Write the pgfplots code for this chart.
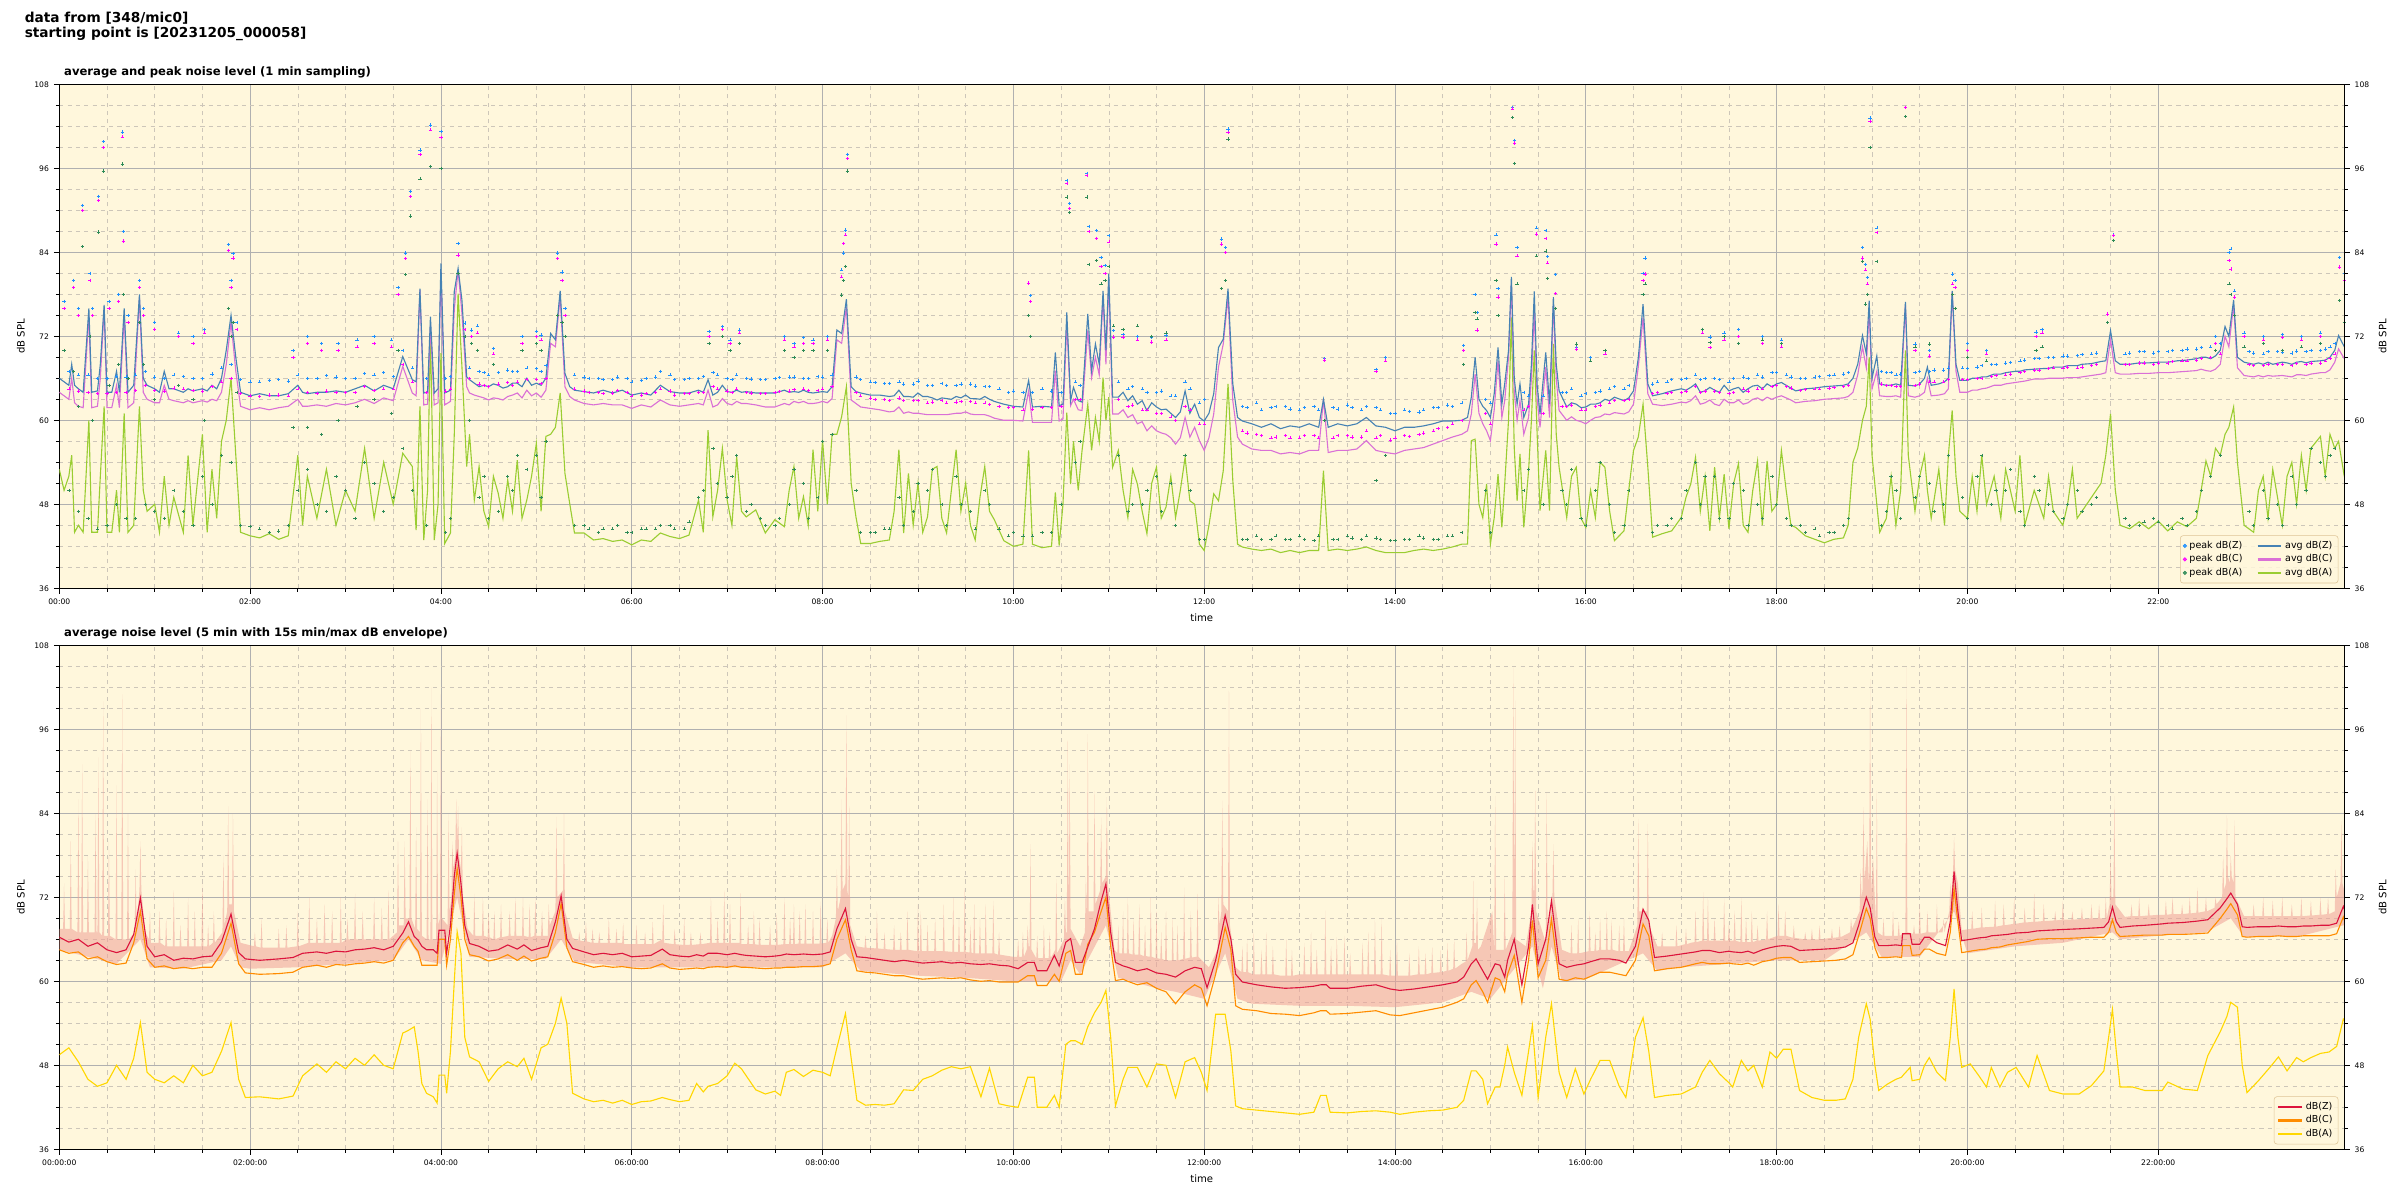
\documentclass[border=0pt]{standalone}
\usepackage{pgfplots}
\pgfplotsset{compat=1.18}
\usepackage{pgfplotstable}
\usepackage{fontspec}
\setmainfont{DejaVu Sans}

\definecolor{bgc}{RGB}{255,247,220}
\definecolor{gmaj}{RGB}{176,176,176}
\definecolor{gmin}{RGB}{205,198,185}
\definecolor{pZ}{RGB}{30,144,255}
\definecolor{pC}{RGB}{255,0,255}
\definecolor{pA}{RGB}{46,139,87}
\definecolor{aZ}{RGB}{70,130,180}
\definecolor{aC}{RGB}{218,112,214}
\definecolor{aA}{RGB}{154,205,50}
\definecolor{bZ}{RGB}{220,20,60}
\definecolor{bC}{RGB}{255,140,0}
\definecolor{bA}{RGB}{255,215,0}
\definecolor{envc}{RGB}{240,160,150}
\definecolor{legedge}{RGB}{222,196,150}

\newcommand\tkfont{\fontsize{5.5}{6.6}\selectfont}
\newcommand\lbfont{\fontsize{7.3}{8.8}\selectfont}
\newcommand\lgfont{\fontsize{6.9}{8.2}\selectfont}
\newcommand\ttfont{\bfseries\fontsize{8.4}{10}\selectfont}

% top panel: 1 min averages
\pgfplotstableread{
t Z C A
0.00 66.0 64.0 53
0.05 65.5 63.5 50
0.10 65.0 63.0 52
0.13 68.0 66.0 55
0.16 65.0 62.5 44
0.20 64.5 62.0 45
0.25 64.0 61.8 44
0.31 76.0 75.0 60
0.34 64.0 61.8 44
0.40 64.2 62.0 44
0.43 68.0 66.0 52
0.47 76.5 76.0 62
0.50 64.0 61.8 44
0.55 64.0 61.8 44
0.60 67.0 65.0 50
0.63 64.0 61.8 44
0.68 76.0 75.0 61
0.72 64.0 61.8 44
0.78 65.0 62.5 45
0.84 78.0 77.5 62
0.88 66.0 64.0 50
0.92 65.0 63.0 47
1.00 64.5 62.5 48
1.05 64.0 62.5 44
1.10 67.0 65.0 52
1.15 64.5 63.0 45
1.20 64.5 62.8 49
1.30 64.0 62.5 44
1.35 64.5 62.8 55
1.40 64.2 62.5 45
1.50 64.5 62.8 58
1.55 64.2 62.6 44
1.60 65.0 63.0 53
1.65 64.5 62.8 46
1.70 66.0 64.0 57
1.75 70.0 68.0 60
1.80 75.0 74.0 66
1.85 69.0 67.0 55
1.90 64.0 62.0 44
2.00 63.5 61.5 43.5
2.10 63.8 61.8 43.2
2.20 63.5 61.5 43.8
2.30 63.5 61.8 43
2.40 63.8 62.0 43.5
2.50 65.0 63.0 55
2.55 64.0 62.0 45
2.60 63.8 62.0 52
2.70 64.0 62.2 46
2.80 64.0 62.0 53
2.90 64.2 62.4 45
3.00 64.0 62.2 50
3.10 64.5 62.5 47
3.20 65.0 63.0 56
3.30 64.2 62.4 46
3.40 65.0 63.2 54
3.50 64.5 62.8 48
3.60 69.1 67.7 55.3
3.70 65.8 63.9 53.4
3.74 65.5 63.5 44.3
3.78 78.8 78.6 62.0
3.82 63.9 62.2 42.9
3.86 64.0 62.3 50
3.89 74.8 73.6 72.4
3.93 63.9 62.2 42.9
3.97 64.5 62.5 48
4.00 82.4 81.2 69.6
4.04 63.9 62.2 42.4
4.10 64.3 62.7 43.9
4.14 78.4 75.8 58.0
4.18 81.7 81.5 78.1
4.22 77.2 75.3 67.7
4.27 66.2 64.8 53.4
4.30 65.8 63.9 58.0
4.35 65.3 63.6 48.6
4.40 64.8 63.4 53.4
4.45 65.0 63.2 47.0
4.50 64.8 62.9 44.8
4.55 65.2 63.2 52
4.60 65.0 63.1 49.6
4.65 64.6 62.9 46
4.70 64.8 63.4 51.5
4.75 65.3 63.6 47
4.80 65.3 63.9 54.3
4.85 64.8 63.2 46
4.90 66.0 64.3 48.6
4.95 65.0 63.5 52
5.00 65.3 63.9 56.7
5.05 65.0 63.3 47
5.10 66.0 64.3 57.7
5.15 72.4 71.0 58.0
5.20 71.5 70.5 59.0
5.25 78.5 77.7 63.9
5.30 66.7 64.8 52.4
5.35 64.8 63.4 48.1
5.40 64.3 62.9 43.9
5.50 64.1 62.4 43.9
5.60 63.9 62.2 42.9
5.70 64.3 62.4 43.1
5.80 63.9 62.2 42.7
5.90 64.3 62.2 42.9
6.00 63.6 61.7 42.2
6.10 63.9 62.2 42.9
6.20 63.6 61.9 42.7
6.30 65.0 62.9 43.9
6.40 64.1 62.2 43.4
6.50 63.9 62.0 43.1
6.60 63.9 62.2 43.6
6.70 64.3 62.4 48.6
6.75 64.0 62.2 44
6.80 65.8 64.3 58.6
6.85 63.6 61.9 46.2
6.90 64.0 62.2 50
6.95 65.0 63.1 56.0
7.00 64.1 62.4 48.6
7.05 64.0 62.2 45
7.10 64.3 62.7 54.8
7.15 64.0 62.4 47
7.20 64.1 62.4 46.2
7.30 63.9 62.2 47.2
7.40 63.9 61.9 43.9
7.50 63.9 61.9 45.8
7.60 64.3 62.4 44.8
7.65 64.0 62.2 50
7.70 64.1 62.7 53.4
7.75 64.0 62.5 46
7.80 64.3 62.7 49.1
7.85 64.0 62.4 45
7.90 63.9 62.4 55.8
7.95 64.0 62.5 47
8.00 64.1 62.7 57.2
8.05 64.0 62.5 48
8.10 64.8 63.1 58.0
8.15 72.9 71.5 58.0
8.20 72.4 71.0 60.5
8.25 77.3 76.2 64.8
8.30 64.8 62.9 51.0
8.35 64.1 62.4 46.2
8.40 63.9 61.9 42.4
8.50 63.6 61.7 42.4
8.60 63.6 61.5 42.7
8.70 63.4 61.2 42.9
8.75 63.5 61.3 47
8.80 64.3 61.9 55.8
8.85 63.4 61.0 43.9
8.90 63.4 61.2 52.4
8.95 63.3 61.0 45
9.00 63.9 61.0 51.0
9.05 63.4 60.9 44
9.10 63.4 60.8 46.2
9.15 63.2 60.8 53
9.20 62.9 60.8 53.4
9.25 63.2 60.8 46
9.30 63.1 60.8 43.9
9.35 63.0 60.9 50
9.40 63.4 61.0 55.8
9.45 63.2 61.0 47
9.50 63.6 61.2 51.0
9.55 63.1 60.9 45
9.60 63.1 60.8 42.9
9.65 63.0 60.8 49
9.70 63.4 60.8 53.4
9.75 63.0 60.6 47
9.80 62.7 60.3 45.8
9.90 62.3 60.0 42.8
10.00 62.0 60.0 42.0
10.10 61.9 59.9 42.3
10.16 65.7 64.2 55.7
10.20 61.9 59.7 42.3
10.30 62.0 59.7 41.8
10.40 61.9 59.7 42.0
10.44 69.7 67.1 49.7
10.48 62.1 59.9 42.1
10.52 62.3 60.2 48
10.56 75.4 73.8 61.1
10.60 62.8 62.1 50.9
10.63 64.7 63.0 57
10.68 62.8 61.5 50
10.72 62.6 61.4 55.7
10.78 75.2 72.8 62.3
10.82 67.1 66.1 55.7
10.86 70.9 69.0 60.4
10.90 68.0 66.5 57
10.94 78.5 77.6 66.1
10.97 70.0 68.0 60
11.00 80.9 80.0 63.3
11.04 63.3 60.9 53.3
11.10 63.3 60.9 55.7
11.15 64.0 61.5 50
11.20 62.8 60.4 46.1
11.25 63.5 60.8 53
11.30 62.3 59.5 50.9
11.35 62.8 59.8 47
11.40 61.4 58.5 43.8
11.45 62.5 59.2 51
11.50 61.9 58.5 53.3
11.55 61.5 58.2 46
11.60 61.6 58.0 47.6
11.65 61.0 57.5 52
11.70 60.4 56.6 46.1
11.75 61.2 57.5 50
11.80 64.2 60.4 54.7
11.85 61.0 57.6 48.5
11.90 62.3 59.0 48.0
11.95 60.4 57.1 42.3
12.00 59.9 55.7 41.4
12.05 61.0 57.5 45
12.10 63.8 60.9 49.5
12.15 70.4 67.6 48.5
12.20 71.6 70.9 52.8
12.25 78.8 77.6 65.2
12.30 65.2 62.8 51.4
12.35 60.4 57.6 42.3
12.40 59.9 56.6 41.9
12.50 59.5 55.9 41.6
12.60 59.0 55.7 41.4
12.70 59.5 55.7 41.6
12.80 58.8 55.2 41.1
12.90 59.2 55.4 41.4
13.00 59.0 55.2 41.1
13.10 59.5 55.7 41.4
13.20 59.0 55.7 41.4
13.25 63.0 63.0 52.8
13.30 59.0 55.4 41.4
13.40 59.5 55.7 41.6
13.50 59.2 55.7 41.4
13.60 59.5 55.9 41.6
13.70 60.4 57.1 41.9
13.80 59.2 55.7 41.4
13.90 59.0 55.4 41.1
14.00 58.5 55.2 41.1
14.10 59.0 55.7 41.1
14.20 59.0 55.9 41.4
14.30 59.2 56.1 41.6
14.40 59.5 56.6 41.4
14.50 59.9 57.1 41.6
14.60 59.9 57.6 41.9
14.70 60.0 58.0 42.3
14.76 60.4 58.5 42.3
14.80 63.3 60.9 57.1
14.84 69.0 66.6 57.3
14.88 63.0 61.0 48
14.92 62.0 59.5 46.1
14.96 61.4 58.5 50.9
15.00 60.4 57.1 42.3
15.04 63.8 61.5 46.1
15.08 70.4 68.5 52.3
15.12 62.3 60.4 44.7
15.15 65.2 62.8 50.9
15.19 70.0 69.0 60
15.22 80.5 79.5 74.7
15.25 66.0 64.0 56
15.28 62.3 60.0 48.5
15.31 65.2 62.8 55.2
15.35 60.4 58.0 44.7
15.40 62.3 60.4 52.8
15.43 68.0 66.0 60
15.46 78.4 75.7 70.0
15.49 65.0 63.0 58
15.52 60.9 59.0 47.1
15.58 69.7 67.6 55.7
15.62 62.3 60.4 47.1
15.66 77.6 76.6 70.9
15.69 68.0 66.0 58
15.72 64.2 61.4 53.3
15.80 61.9 60.0 46.1
15.85 62.5 60.5 52
15.90 62.3 60.0 53.3
15.95 61.8 59.8 46
16.00 61.9 59.5 44.7
16.05 62.3 60.0 50
16.10 62.3 60.4 46.1
16.15 62.5 60.5 54
16.20 63.0 60.9 53.3
16.25 62.8 60.8 47
16.30 63.3 61.1 42.8
16.40 62.8 60.9 44.2
16.45 63.2 61.2 50
16.50 64.2 62.3 55.7
16.55 68.9 67.6 57.6
16.60 76.6 74.7 62.3
16.65 65.2 63.8 53.3
16.70 63.5 62.3 43.3
16.80 63.8 62.1 43.8
16.90 64.2 62.3 44.2
17.00 64.5 62.6 46.1
17.05 64.3 62.5 49
17.10 64.7 62.8 50.9
17.15 65.2 63.5 54.7
17.20 64.0 62.3 47
17.25 64.2 62.5 52
17.30 64.7 62.9 44.2
17.35 64.3 62.3 53.3
17.40 64.0 62.1 46
17.45 65.0 63.0 52.3
17.50 64.2 62.5 44.5
17.55 64.5 62.5 51
17.60 64.7 62.9 53.8
17.65 64.0 62.3 45
17.70 64.5 62.5 44
17.75 64.9 63.0 50
17.80 65.0 63.2 54.2
17.85 64.5 62.8 45
17.90 65.2 63.3 54.2
17.95 64.8 63.0 47
18.00 65.2 63.3 48
18.05 65.4 63.5 55.7
18.10 65.0 63.2 50
18.15 64.6 62.9 45
18.20 64.2 62.5 44.7
18.30 64.5 62.7 43.5
18.40 64.6 62.8 43.0
18.50 64.8 63.0 42.5
18.60 64.9 63.1 43.0
18.70 65.0 63.2 43.2
18.75 65.2 63.4 45
18.80 66.0 64.0 54
18.85 68.0 66.5 56
18.90 72.1 70.5 60
18.94 69.5 67.5 62
18.97 77.1 76.0 69.0
19.00 66.0 64.5 55
19.05 69.2 67.0 48
19.08 65.2 63.5 44
19.15 65.0 63.4 46
19.20 65.0 63.4 52
19.25 65.2 63.5 45
19.30 65.0 63.3 50
19.35 76.9 76.5 70.0
19.38 65.0 63.5 55
19.45 64.9 63.3 47
19.50 65.2 63.5 52
19.55 66.0 64.0 55
19.58 67.6 66.0 50
19.62 65.0 63.5 46
19.70 65.2 63.6 53
19.76 65.5 63.8 45
19.80 66.0 64.5 55
19.84 78.5 78.3 61.4
19.88 68.0 67.0 52
19.92 65.7 64.0 47
20.00 65.7 64.0 46
20.05 66.0 64.3 52
20.10 66.0 64.3 47
20.15 66.2 64.5 55
20.20 66.2 64.6 48
20.28 66.6 65.0 52
20.35 66.6 65.0 46
20.40 66.8 65.2 53
20.50 67.0 65.4 47
20.55 67.0 65.5 55
20.60 67.2 65.6 45
20.70 67.3 65.9 50
20.80 67.4 65.9 46
20.85 67.4 66.0 52
20.90 67.6 66.0 47
21.00 67.6 66.0 45
21.05 67.8 66.1 48
21.10 67.8 66.1 53
21.15 67.8 66.1 46
21.20 68.0 66.2 47
21.30 68.1 66.4 49
21.40 68.4 66.6 51
21.45 68.5 66.8 55
21.50 72.8 71.5 60.9
21.55 68.5 66.8 50
21.60 68.0 66.6 45
21.70 68.0 66.6 44.5
21.80 68.2 66.7 45.5
21.90 68.2 66.7 44.5
22.00 68.3 66.8 45.6
22.10 68.3 66.8 44.2
22.20 68.5 66.9 45.5
22.30 68.6 67.0 44.8
22.40 68.8 67.1 46
22.45 69.0 67.3 50
22.50 69.0 67.1 54.2
22.55 68.8 67.0 52
22.60 69.2 67.3 56
22.65 70.0 68.0 55
22.70 73.4 72.0 58
22.74 72.0 70.5 59
22.79 77.2 76.5 61.9
22.83 69.0 67.5 54
22.90 68.3 66.4 45
23.00 68.0 66.2 44
23.05 68.2 66.4 50
23.10 68.0 66.2 52
23.15 68.3 66.4 46
23.20 68.0 66.3 53
23.30 68.3 66.4 45
23.35 68.2 66.3 52
23.40 68.0 66.2 54
23.45 68.3 66.5 48
23.50 68.4 66.5 55
23.55 68.2 66.4 50
23.60 68.4 66.6 56
23.70 68.5 66.8 57.7
23.75 68.6 66.8 52
23.80 69.0 67.2 58
23.85 70.0 68.3 56
23.89 72.1 70.2 57
23.95 70.5 68.8 52
}\topavg

% top panel: 1 min peaks
\pgfplotstableread{
t Z C A
0.1 67.0 64.5 50
0.2 66.5 64.2 47
0.3 66.5 64.0 46
0.4 66.0 63.8 44.5
0.5 66.0 63.8 45
0.6 66.3 64.0 48
0.7 66.2 64.0 46
0.8 66.5 64.3 46
0.9 67.0 65.0 48
1.0 66.2 64.3 47
1.1 66.0 64.2 46
1.2 66.5 64.6 50
1.3 66.3 64.5 47
1.4 66.0 64.3 45
1.5 66.0 64.2 52
1.6 66.6 64.8 48
1.7 67.5 65.5 55
1.8 68.0 66.0 54
1.9 65.8 63.8 45
2.0 65.5 63.5 44.8
2.1 65.5 63.4 44.5
2.2 65.7 63.6 44.0
2.3 65.8 63.6 44.2
2.4 65.6 63.5 45
2.5 66.5 64.5 50
2.6 66.0 64.0 53
2.7 66.0 63.8 48
2.8 66.4 64.2 47
2.9 66.2 64.0 52
3.0 66.0 64.0 50
3.1 66.0 64.0 46
3.2 66.7 64.8 54
3.3 66.5 64.3 51
3.4 66.8 64.5 47
3.5 66.3 64.5 49
3.6 70 68 56
3.7 67.5 65.5 50
3.85 66.0 64.0 45
4.05 66.0 64.2 44
4.1 66.3 64.5 46
4.3 67.5 66.0 60
4.4 67.0 65.2 49
4.45 66.8 65.0 52
4.5 66.5 64.8 46
4.6 66.8 65.2 47
4.7 67.2 65.4 52
4.75 67.0 65.0 50
4.8 67.0 65.5 55
4.9 67.5 65.8 53
5.0 67.4 65.8 55
5.05 67.0 65.3 49
5.1 67.8 66.0 57
5.4 66.5 64.5 45
5.5 66.2 64.2 45
5.55 66.0 64.0 44.5
5.65 66.0 64.0 44
5.7 65.8 63.8 44.5
5.8 65.8 63.9 44.5
5.85 66.2 64.3 45
5.95 66.0 64.0 44
6.0 65.5 63.5 44
6.1 65.7 63.6 44.5
6.15 66.0 63.8 44.5
6.25 66.2 64.0 44.5
6.3 67.0 64.5 45
6.4 66.5 64.2 45
6.45 65.8 63.6 44.5
6.55 65.8 63.8 44.5
6.6 66.0 63.8 45.5
6.7 66.0 64.0 49
6.75 66.3 64.0 50
6.85 66.8 64.8 56
6.9 66.5 64.5 51
7.0 66.0 64.2 49
7.05 65.8 64.0 52
7.1 66.5 64.5 55
7.2 66.0 64.0 47
7.25 65.9 63.9 48
7.35 65.8 63.8 46
7.4 65.8 63.8 45
7.5 66.0 64.0 45
7.55 66.1 64.1 46
7.65 66.2 64.2 48
7.7 66.2 64.4 53
7.8 66.0 64.5 51
7.85 66.0 64.3 46
7.95 66.3 64.3 49
8.0 66.2 64.5 57
8.1 66.5 64.8 58
8.35 66.2 64.0 50
8.4 65.8 63.5 44
8.5 65.5 63.2 44
8.55 65.4 63.0 44
8.65 65.3 63.0 44.5
8.7 65.3 62.8 44.5
8.8 65.5 63.2 49
8.85 65.2 62.8 45
8.95 65.2 62.8 47
9.0 65.6 62.8 51
9.1 65.0 62.5 50
9.15 65.0 62.6 53
9.25 65.3 62.8 48
9.3 65.0 62.5 45
9.4 65.0 62.6 52
9.45 65.2 62.7 48
9.55 65.2 62.7 47
9.6 64.9 62.5 44.5
9.7 64.8 62.5 50
9.75 64.8 62.3 48
9.85 64.5 62.0 44.5
9.95 64.0 61.8 43.5
10.0 64.2 61.8 44
10.1 64.0 61.5 43.5
10.2 64.0 61.6 43.5
10.3 64.5 61.8 44
10.4 64.2 61.8 44
10.5 64.0 62.0 48
10.65 65.5 63.0 54
10.7 65.0 63.0 57
11.1 65.5 63.0 55
11.2 64.5 62.0 47
11.25 64.8 62.2 48
11.35 64.5 61.5 48
11.4 64.0 61.5 50
11.5 64.0 61.0 52
11.55 64.2 61.0 47
11.65 63.5 60.5 51
11.7 63.5 60.0 45
11.8 65.5 62.0 55
11.85 64.5 61.5 50
11.95 62.5 59.5 43
12.0 63.0 59.5 43
12.4 62.0 58.5 43
12.45 61.8 58.2 43
12.55 62.5 58.0 43.5
12.6 61.5 57.8 43
12.7 61.8 57.5 43
12.75 62.0 57.6 43.5
12.85 62.0 57.8 43
12.9 61.6 57.5 43
13.0 61.5 57.5 43.5
13.05 61.8 57.8 43
13.15 62.0 57.8 42.8
13.2 61.5 57.5 43.5
13.35 61.8 57.5 43
13.4 61.6 57.8 43
13.5 62.2 57.8 43.5
13.55 61.8 57.6 43.2
13.65 61.5 57.6 43
13.7 62.0 58.5 43.5
13.8 61.8 57.5 43.2
13.85 61.5 57.8 43
13.95 61.0 57.2 42.8
14.0 61.0 57.5 42.8
14.1 61.5 57.8 43
14.15 61.3 57.7 43
14.25 61.2 58.0 43.5
14.3 61.5 58.2 43.2
14.4 61.8 58.5 43
14.45 61.8 58.8 43
14.55 62.2 59.0 43.5
14.6 62.0 59.5 43.5
14.7 62.5 60.0 44
14.95 63.0 61.0 50
15.0 62.5 59.5 44
15.35 64.0 61.5 50
15.4 63.5 62.0 53
15.55 63.5 61.0 48
15.75 64.0 62.0 50
15.8 64.0 62.0 48
15.85 64.5 62.2 53
15.95 63.5 61.5 46
16.0 63.8 61.5 45
16.1 64.0 62.0 50
16.15 64.2 62.2 54
16.25 64.5 62.5 48
16.3 64.8 62.8 44
16.4 64.5 62.8 45
16.45 65.0 63.0 50
16.7 65.2 63.8 44
16.75 65.5 64.0 45
16.85 65.5 63.8 45
16.9 65.8 64.0 46
17.0 65.8 64.0 46
17.05 66.0 64.2 50
17.15 66.5 64.8 54
17.2 65.8 64.0 48
17.25 66.0 64.2 52
17.35 66.0 64.2 52
17.4 65.8 64.0 46
17.5 65.5 63.8 46
17.55 66.0 64.0 51
17.65 66.2 64.5 50
17.7 66.0 64.2 45
17.8 66.5 64.5 48
17.85 66.2 64.5 46
17.95 66.8 64.8 52
18.0 66.8 65.0 48
18.1 66.5 64.8 46
18.15 66.2 64.6 45
18.25 66.0 64.3 45
18.3 66.0 64.4 44
18.4 66.2 64.5 44.5
18.45 66.3 64.5 43.5
18.55 66.4 64.6 44
18.6 66.5 64.7 44
18.7 66.6 64.8 45
18.75 66.8 65.0 46
19.1 67.0 65.2 45
19.15 66.8 65.0 47
19.2 66.8 65.0 52
19.25 66.5 64.8 50
19.3 66.6 64.8 46
19.45 66.8 65.0 49
19.5 67.0 65.2 52
19.6 67.0 65.5 51
19.65 67.2 65.5 47
19.75 67.2 65.5 48
19.8 67.5 65.8 55
19.95 67.5 65.8 49
20.0 67.4 65.8 46
20.1 67.6 66.0 52
20.15 67.8 66.0 55
20.25 68.0 66.3 48
20.3 68.0 66.4 50
20.4 68.2 66.5 50
20.45 68.3 66.6 53
20.55 68.5 66.8 47
20.6 68.6 67.0 45
20.7 68.8 67.2 52
20.75 68.8 67.2 50
20.85 69.0 67.4 48
20.9 69.0 67.5 47
21.0 69.2 67.5 46
21.05 69.2 67.6 48
21.15 69.3 67.5 50
21.2 69.4 67.6 47
21.3 69.5 67.8 48
21.35 69.6 68.0 49
21.65 69.5 68.0 46
21.7 69.6 68.0 45
21.8 69.8 68.2 45
21.85 69.8 68.2 45.5
21.95 69.6 68.0 46
22.0 69.8 68.2 45.5
22.1 69.8 68.2 45
22.15 70.0 68.4 44.5
22.25 70.0 68.5 46
22.3 70.2 68.5 45
22.4 70.2 68.6 47
22.45 70.4 68.8 50
22.55 70.5 69.0 52
22.65 71.0 69.5 55
22.95 69.8 68.0 47
23.0 69.6 67.8 45
23.1 69.5 67.8 50
23.15 69.8 68.0 46
23.25 69.8 68.0 48
23.3 69.7 68.0 45
23.4 69.6 67.8 52
23.45 69.9 68.1 48
23.55 69.8 68.0 50
23.6 70.0 68.2 56
23.7 70.0 68.2 54
23.75 70.2 68.5 52
23.8 70.5 68.8 55
23.85 71 69.5 56
0.05 77 76 70
0.15 80 79 67
0.2 76 75 62
0.24 90.7 90.0 84.8
0.32 81 80 72
0.35 76 75 60
0.41 92.0 91.4 86.9
0.46 99.8 99.0 95.6
0.52 77 76 65
0.62 78 77 68
0.66 101.2 100.5 96.6
0.67 87.0 85.6 78
0.72 75 74 66
0.84 80 79 74
0.88 76 75 68
1.0 74 73 63
1.25 72.5 72 65
1.4 72 71 63
1.52 73 72.5 60
1.77 85.1 84.3 76
1.8 80 79 72
1.82 83.8 83.2 74
1.86 74 73 64
2.45 70 69 59
2.6 72 71 59
2.75 71 70 58
2.92 71 70 60
3.12 71.5 70.5 62
3.3 72 71 63
3.48 71.5 70.5 61
3.55 79 78 70
3.63 83.9 83.1 80.8
3.68 92.7 92.0 89.2
3.78 98.6 98.0 94.5
3.89 102.2 101.5 96.3
4.0 101.3 100.4 96.0
4.18 85.3 83.6 81
4.25 73.9 73.0 72
4.32 72.9 72.0 71
4.38 73.5 72.5 70
4.55 70.3 69.5 68
4.85 72.0 71.0 70
5.0 72.7 72.0 71
5.05 72.2 71.5 70
5.22 83.9 83.1 75
5.27 81.2 80 74
5.3 76 75 72
6.81 72.7 72.0 71
6.95 73.4 73.0 72
7.03 71.5 71.0 70
7.13 72.9 72.5 71
7.6 72.0 71.5 70
7.7 71.0 70.5 69
7.8 71.8 71.0 70
7.9 71.5 71 70
8.05 72.0 71.5 70
8.2 81.5 80.5 77.9
8.22 83.9 85.3 80
8.24 87.2 86.5 82
8.26 98.0 97.4 95.6
10.16 79.6 79.6 75.0
10.18 77.8 77 72
10.56 94.3 93.8 91.9
10.59 91.0 90.3 89.7
10.77 95.3 95.0 91.9
10.79 87.7 87.0 82.3
10.87 87.1 86 82.8
10.92 83.3 82 79.5
10.96 82.1 81 80
11.0 86.4 85.5 82
11.05 72.8 71.9 73.5
11.15 72.3 71.9 73
11.3 72.0 71.5 73.5
11.45 71.8 71.2 72
11.6 72.2 71.5 72.5
12.18 85.9 85.2 78.8
12.22 84.7 84 80
12.25 101.6 101.1 100.2
13.26 68.8 68.6 60
13.8 67.3 67 51.4
13.9 69.0 68.5 55
14.72 70.7 70.0 68.0
14.84 78.0 75.4 75.4
14.86 75.4 72.9 74.5
15.06 86.5 85.2 80
15.08 78.8 77.6 75
15.23 104.7 104.5 103.3
15.25 100.0 99.6 96.7
15.28 84.7 83.5 79.5
15.48 87.5 86.6 83.5
15.58 87.1 86.0 84.2
15.6 83.4 82.5 80.3
15.68 80.8 78.1 76
15.9 70.4 70.2 70.9
16.05 69 68.5 68.5
16.2 70 69.5 70
16.6 81 80 78
16.62 83.2 80.9 79.5
17.22 73 72.5 73
17.3 71.9 70.4 71.1
17.45 72.5 71.5 72
17.6 73 72 71
17.85 72 71 71.5
18.05 71.5 70.5 71
18.9 84.7 83.2 82.7
18.93 82.3 81.5 76.6
18.95 80.4 79.5 78
18.98 103.2 102.7 99.0
19.05 87.5 86.8 82.7
19.35 104.7 104.7 103.4
19.45 70.9 70.0 70.5
19.6 70.0 69.2 70.9
19.84 80.9 79.5 78
19.87 80.0 79.0 76
20.0 71 70 69
20.2 70 69.5 68.5
20.72 72.6 72 70
20.78 73 72.5 70.5
21.47 75.2 75.2 74.0
21.53 86.5 86.4 85.7
22.6 72 71 70
22.74 84.0 82.8 79.5
22.76 84.5 81.6 78
22.8 78.5 77.6 75
22.9 72.5 72 70.5
23.1 72 71.5 71
23.3 72.3 71.8 70
23.5 72 71.5 70.5
23.7 72.5 72 71
23.9 83.3 81.9 77.1
23.95 81 80 74
}\toppeak

% bottom panel: 5 min averages
\pgfplotstableread{
t Z C A
0.00 66.3 64.5 49.5
0.10 65.6 64.0 50.5
0.20 66.0 64.2 48.5
0.30 65.0 63.2 46
0.40 65.5 63.5 45
0.50 64.5 62.8 45.5
0.60 64.1 62.4 48
0.70 64.5 62.6 46
0.78 66.7 65.5 49
0.85 71.9 70.0 54.1
0.92 65.0 63.2 47
1.00 63.5 62.0 46
1.10 63.8 62.2 45.5
1.20 63.0 61.8 46.5
1.30 63.3 62.0 45.5
1.40 63.2 61.8 48
1.50 63.5 62.0 46.5
1.60 63.6 62.0 47
1.70 65.6 64.0 50
1.80 69.6 68.3 54.1
1.88 64.1 62.5 46
1.95 63.2 61.2 43.4
2.10 63.0 61.0 43.5
2.30 63.2 61.1 43.2
2.45 63.4 61.3 43.6
2.55 64.0 62.0 46.5
2.70 64.2 62.3 48.2
2.80 64.0 62.0 47
2.90 64.3 62.4 48.5
3.00 64.2 62.3 47.5
3.10 64.5 62.5 49
3.20 64.6 62.6 48
3.30 64.8 62.8 49.5
3.40 64.5 62.6 48
3.50 65.0 63.0 47.5
3.60 66.9 65.5 52.6
3.66 68.5 66.4 53.0
3.72 66.4 65.0 53.5
3.76 65.9 64.3 50
3.80 65.0 62.3 45.4
3.85 64.5 62.3 44.0
3.92 64.5 62.3 43.5
3.96 64.0 62.3 42.6
3.98 67.3 66.0 46.6
4.04 67.3 66.0 46.6
4.06 64.0 62.3 44.0
4.10 68.0 66.0 50
4.14 75.0 72.5 60
4.17 78.3 76.1 67.1
4.21 74.0 72.0 64
4.25 68.0 66.0 52
4.30 65.4 63.8 49.2
4.40 65.0 63.5 48.5
4.50 64.3 62.9 45.7
4.60 64.5 63.2 47.5
4.70 65.2 63.8 48.5
4.80 64.6 63.0 47.8
4.87 65.2 63.6 49
4.95 64.4 62.9 46
5.05 64.8 63.3 50.5
5.12 65.0 63.5 51
5.20 68.5 67.0 54
5.26 72.2 71.1 57.6
5.32 66.0 64.8 54
5.38 64.7 62.8 44
5.50 64.2 62.4 43.2
5.60 63.8 62.0 42.8
5.70 64.0 62.2 43.0
5.80 63.8 62.0 42.6
5.90 64.0 62.1 43.0
6.00 63.5 61.9 42.4
6.10 63.6 61.8 42.8
6.20 63.7 61.9 42.9
6.32 64.6 62.5 43.4
6.40 63.8 61.9 43.1
6.50 63.6 61.7 42.8
6.60 63.5 61.8 43.0
6.68 63.8 61.9 45.4
6.75 63.6 61.8 44.2
6.80 64.0 62.0 45.0
6.90 64.0 62.1 45.4
7.00 63.8 62.0 46.5
7.08 64.0 62.2 48.3
7.15 63.8 62.0 47.5
7.20 63.7 62.0 46.5
7.30 63.6 61.9 44.5
7.40 63.5 61.8 43.9
7.50 63.6 61.9 44.3
7.56 63.7 61.9 43.7
7.62 63.9 62.0 47.0
7.70 63.8 62.0 47.4
7.80 63.9 62.1 46.4
7.90 63.8 62.1 47.3
8.00 63.9 62.2 47.0
8.08 64.2 62.5 46.5
8.15 67.5 66.0 50.5
8.24 70.4 68.8 55.4
8.30 66.0 64.5 49
8.36 63.5 61.5 43.0
8.45 63.4 61.3 42.3
8.55 63.2 61.2 42.4
8.65 63.0 61.0 42.3
8.75 62.8 60.8 42.5
8.85 63.0 60.8 44.5
8.95 62.8 60.5 44.4
9.05 62.6 60.3 46.0
9.15 62.7 60.4 46.5
9.25 62.8 60.5 47.3
9.35 62.6 60.4 47.8
9.45 62.7 60.5 47.5
9.55 62.5 60.2 47.8
9.66 62.4 60.0 43.5
9.75 62.5 60.1 47.6
9.85 62.3 59.9 42.5
9.95 62.2 59.9 42.2
10.05 61.8 59.9 42.0
10.15 62.7 60.8 46.3
10.22 62.7 60.8 46.3
10.25 61.5 59.4 42.0
10.35 61.5 59.4 42.0
10.43 63.7 61.0 43.7
10.48 62.2 60.0 42.0
10.55 65.6 64.0 51.0
10.60 66.1 64.4 51.5
10.65 62.7 61.0 51.5
10.72 62.7 61.0 51.0
10.78 64.9 65.3 53.5
10.85 67.5 67.0 55.5
10.92 71.5 70.0 57
10.97 73.9 72.0 58.7
11.02 67.0 65.0 52
11.07 62.7 60.1 42.2
11.15 62.2 60.3 46
11.20 62.0 60.0 47.7
11.30 61.5 59.5 47.7
11.40 61.8 59.8 44.9
11.50 61.2 59.0 48.2
11.60 61.0 58.5 48.0
11.70 60.6 56.8 43.4
11.80 61.5 58.5 48.5
11.90 62.0 59.5 49.1
11.97 61.8 59.0 47
12.03 59.1 56.5 44.4
12.12 63.0 61.0 55.3
12.22 69.4 67.7 55.3
12.28 66.0 64.5 50
12.33 61.0 56.5 42.2
12.40 59.9 56.0 41.8
12.55 59.5 55.8 41.6
12.70 59.2 55.4 41.4
12.85 59.0 55.3 41.2
13.00 59.1 55.1 41.0
13.15 59.3 55.5 41.3
13.22 59.5 55.8 43.7
13.28 59.5 55.8 43.7
13.32 59.0 55.3 41.3
13.50 59.0 55.4 41.2
13.65 59.3 55.6 41.4
13.80 59.5 55.8 41.5
13.95 58.9 55.2 41.3
14.05 58.7 55.1 41.0
14.20 58.9 55.5 41.3
14.35 59.2 55.9 41.5
14.50 59.5 56.3 41.6
14.65 59.9 57.0 42.0
14.72 60.6 57.5 43
14.80 62.5 59.5 47.2
14.85 63.2 60.1 47.2
14.92 61.5 58.5 46
14.97 60.3 57.0 42.5
15.05 62.5 60.5 44.9
15.10 62.3 60.2 44.9
15.15 60.6 58.5 48
15.18 63.0 61.0 50.6
15.25 66.0 63.7 47
15.33 59.5 57.0 43.7
15.40 65.0 63.0 50
15.44 71.0 68.7 53.7
15.50 62.5 60.5 43.4
15.58 66.0 63.0 52
15.64 71.5 68.9 56.8
15.72 62.5 60.3 47
15.80 62.0 60.1 43.4
15.89 62.3 60.5 47.5
15.98 62.5 60.3 43.9
16.05 62.8 60.7 46
16.15 63.2 61.3 48.7
16.25 63.2 61.3 48.7
16.35 63.0 61.0 45
16.42 62.6 60.8 43.4
16.52 65.0 63.0 52
16.60 70.3 68.2 54.8
16.66 68.7 66.5 50
16.72 63.4 61.5 43.4
16.85 63.6 61.8 43.7
17.00 63.9 62.0 43.9
17.15 64.2 62.5 44.9
17.22 64.4 62.7 47.0
17.30 64.4 62.5 48.7
17.40 64.1 62.5 46.8
17.50 64.3 62.6 45.5
17.54 64.2 62.5 44.9
17.63 64.1 62.4 48.7
17.70 64.3 62.6 47.2
17.76 64.0 62.3 48.0
17.85 64.5 62.8 44.9
17.93 64.8 63.0 49.9
18.00 65.0 63.3 49.0
18.07 65.1 63.4 50.3
18.15 65.0 63.4 50.3
18.24 64.4 62.7 44.4
18.37 64.5 62.8 43.4
18.50 64.6 62.9 43.0
18.62 64.7 63.0 43.0
18.72 64.9 63.2 43.2
18.80 65.5 63.8 46
18.86 68.0 66.5 52
18.94 72.0 70.4 56.8
18.98 70.5 69.0 54.6
19.03 66.3 64.8 48
19.07 65.1 63.4 44.4
19.16 65.1 63.4 45.3
19.25 65.2 63.5 46
19.31 65.1 63.4 46.3
19.32 66.8 65.1 46.5
19.40 66.8 65.1 47.7
19.42 65.3 63.7 45.8
19.50 65.3 63.8 46
19.55 66.3 64.6 48
19.60 66.3 64.6 49.1
19.68 65.5 64.0 47
19.77 65.1 63.7 45.8
19.82 68.5 67.0 52
19.86 75.7 73.2 58.9
19.90 70.0 68.5 52
19.94 65.8 64.1 47.7
20.03 66.0 64.3 48.2
20.12 66.2 64.5 46.5
20.20 66.3 64.6 44.9
20.25 66.5 64.8 47.7
20.34 66.6 64.9 44.9
20.42 66.7 65.2 47
20.51 66.9 65.4 47.7
20.64 67.0 65.7 44.9
20.73 67.2 66.0 49.4
20.86 67.3 66.1 44.4
21.00 67.4 66.1 43.9
21.17 67.5 66.2 43.9
21.30 67.6 66.3 45.1
21.43 67.7 66.3 47.2
21.48 68.5 67.0 52
21.52 70.6 68.8 56.0
21.56 68.5 67.0 50
21.60 67.7 66.4 44.9
21.73 67.9 66.5 44.9
21.86 68.0 66.6 44.4
22.04 68.2 66.6 44.4
22.10 68.3 66.7 45.6
22.26 68.4 66.7 44.6
22.41 68.6 66.8 44.4
22.52 68.8 66.9 49.4
22.65 70.5 69.0 52.8
22.72 71.8 70.3 55
22.76 72.6 71.1 57.0
22.83 71.0 69.5 56.3
22.88 67.8 66.4 48
22.93 67.7 66.3 44.1
23.05 67.8 66.4 45.8
23.17 67.8 66.4 47.7
23.26 67.9 66.5 49.2
23.35 67.8 66.4 47.2
23.45 67.8 66.4 49.1
23.52 67.9 66.5 48.5
23.60 67.9 66.5 49.1
23.70 68.0 66.5 49.7
23.79 68.0 66.5 49.9
23.87 68.3 66.8 50.7
23.94 70.7 69.2 54.6
23.97 69.6 68.0 54.1
}\botavg

\pgfplotsset{
  nzbase/.style={
    scale only axis, width=22.85in, height=5.04in, anchor=south west,
    xmin=0, xmax=23.95, ymin=36, ymax=108,
    ytick={36,48,...,108}, minor y tick num=3,
    tick align=outside,
    major tick length=4pt, minor tick length=2.5pt,
    tick style={black, line width=0.5pt},
    ticklabel style={font=\tkfont},
    /pgf/number format/assume math mode=true,
    label style={font=\lbfont},
    ylabel={dB SPL},
  },
  nzmain/.style={
    nzbase,
    xtick={0,2,...,22}, minor x tick num=3,
    grid=both,
    major grid style={gmaj, line width=0.6pt},
    minor grid style={gmin, dashed, line width=0.4pt},
    axis background/.style={fill=bgc},
    axis line style={black, line width=0.7pt},
    xtick pos=bottom, ytick pos=left,
    xlabel={time},
    title style={at={(0,1)}, anchor=base west, yshift=0.7pt, font=\ttfont},
    legend style={font=\lgfont, fill=bgc, fill opacity=0.85, text opacity=1,
      draw=legedge, rounded corners=2pt, at={(0.9974,0.0099)}, anchor=south east,
      inner sep=2pt, row sep=-1pt},
    legend cell align=left,
  },
  nzright/.style={
    nzbase,
    axis x line=none, axis y line*=right,
    axis line style={black, line width=0.7pt},
  },
}

\begin{document}
\begin{tikzpicture}
\path[use as bounding box] (0,0) rectangle (24in,12in);
\node[anchor=base west, font=\bfseries\fontsize{9.9}{11.5}\selectfont, inner sep=0pt] at (0.245in,11.775in) {data from [348/mic0]};
\node[anchor=base west, font=\bfseries\fontsize{9.9}{11.5}\selectfont, inner sep=0pt] at (0.245in,11.622in) {starting point is [20231205\_000058]};

% ---------- top panel ----------
\begin{axis}[nzmain, at={(0.593in,6.117in)},
  title={average and peak noise level (1 min sampling)},
  xticklabels={00:00,02:00,04:00,06:00,08:00,10:00,12:00,14:00,16:00,18:00,20:00,22:00},
  legend columns=2,
  legend style={/tikz/every even column/.append style={column sep=8pt}}]
\addlegendimage{only marks, mark=*, mark size=1.3pt, pZ}
\addlegendentry{peak dB(Z)}
\addlegendimage{line legend, aZ, line width=1.8pt}
\addlegendentry{avg dB(Z)}
\addlegendimage{only marks, mark=*, mark size=1.3pt, pC}
\addlegendentry{peak dB(C)}
\addlegendimage{line legend, aC, line width=1.8pt}
\addlegendentry{avg dB(C)}
\addlegendimage{only marks, mark=*, mark size=1.3pt, pA}
\addlegendentry{peak dB(A)}
\addlegendimage{line legend, aA, line width=1.8pt}
\addlegendentry{avg dB(A)}
\addplot[forget plot, only marks, mark=+, mark size=1.2pt, pZ, mark options={line width=0.35pt}] table[x=t, y=Z] {\toppeak};
\addplot[forget plot, only marks, mark=+, mark size=1.2pt, pC, mark options={line width=0.35pt}] table[x=t, y=C] {\toppeak};
\addplot[forget plot, only marks, mark=+, mark size=1.2pt, pA, mark options={line width=0.35pt}] table[x=t, y=A] {\toppeak};
\addplot[forget plot, aA, line width=0.8pt] table[x=t, y=A] {\topavg};
\addplot[forget plot, aC, line width=0.8pt] table[x=t, y=C] {\topavg};
\addplot[forget plot, aZ, line width=0.8pt] table[x=t, y=Z] {\topavg};
\end{axis}
\begin{axis}[nzright, at={(0.593in,6.117in)}]
\addplot[draw=none] coordinates {(1,50)};
\end{axis}

% ---------- bottom panel ----------
\begin{axis}[nzmain, at={(0.593in,0.507in)},
  title={average noise level (5 min with 15s min/max dB envelope)},
  xticklabels={00:00:00,02:00:00,04:00:00,06:00:00,08:00:00,10:00:00,12:00:00,14:00:00,16:00:00,18:00:00,20:00:00,22:00:00}]
\addlegendimage{line legend, bZ, line width=1.8pt}
\addlegendentry{dB(Z)}
\addlegendimage{line legend, bC, line width=1.8pt}
\addlegendentry{dB(C)}
\addlegendimage{line legend, bA, line width=1.8pt}
\addlegendentry{dB(A)}
% 15 s envelope: max forward, then min backward
\addplot[forget plot, fill=envc, fill opacity=0.55, draw=none] coordinates {
(0.00,67.5)
(0.04,67.5)(0.05,74)(0.06,67.5) (0.11,67.5)(0.12,80)(0.13,67.5)
(0.19,67)(0.20,86)(0.21,67) (0.23,67)(0.24,91)(0.25,67)
(0.29,67)(0.30,78)(0.31,67) (0.37,67)(0.38,84)(0.39,67)
(0.40,67)(0.41,92)(0.42,67) (0.45,66.5)(0.46,100)(0.47,66.5)
(0.51,66.5)(0.52,80)(0.53,66.5) (0.59,66)(0.60,88)(0.61,66)
(0.65,66)(0.66,101)(0.67,66) (0.71,66)(0.72,84)(0.73,66)
(0.79,67)(0.80,76)(0.81,68) (0.84,73)(0.85,80)(0.86,73)
(0.90,67)
(0.94,66)(0.95,70)(0.96,65.5) (1.04,65.5)(1.05,70)(1.06,65.5)
(1.11,65)(1.12,69)(1.13,65) (1.19,65)(1.20,73)(1.21,65)
(1.26,65)(1.27,68)(1.28,65) (1.34,65)(1.35,72)(1.36,65)
(1.41,65)(1.42,70)(1.43,65) (1.49,65)(1.50,74)(1.51,65)
(1.55,65)(1.56,68)(1.57,65) (1.61,65.5)(1.62,70)(1.63,65.5)
(1.71,67)(1.72,78)(1.73,68) (1.76,70)(1.77,85)(1.78,71)
(1.81,71)(1.82,84)(1.83,70)
(1.90,65.5)
(2.04,65)(2.05,67)(2.06,65) (2.11,64.8)(2.12,69)(2.13,64.8)
(2.20,64.8)
(2.29,64.8)(2.30,67.5)(2.31,64.8) (2.37,64.8)(2.38,68)(2.39,64.8)
(2.49,65)(2.50,70)(2.51,65) (2.61,65.5)(2.62,72)(2.63,65.5)
(2.69,65.5)(2.70,69)(2.71,65.5) (2.77,65.5)(2.78,71)(2.79,65.5)
(2.85,65.5)(2.86,70)(2.87,65.5) (2.94,65.5)(2.95,72)(2.96,65.5)
(3.01,66)(3.02,69)(3.03,66) (3.09,66)(3.10,72.5)(3.11,66)
(3.17,66)(3.18,70)(3.19,66) (3.29,66)(3.30,72)(3.31,66)
(3.37,66)(3.38,70.5)(3.39,66) (3.44,66)(3.45,73)(3.46,66)
(3.54,67)(3.55,80)(3.56,68) (3.61,68)(3.62,80)(3.63,69)
(3.67,69)(3.68,93)(3.69,69) (3.73,67.5)(3.74,82)(3.75,67.5)
(3.78,67)(3.79,99)(3.80,66.5) (3.85,66)(3.86,86)(3.87,66)
(3.89,66)(3.90,102)(3.91,66) (3.95,66)(3.96,90)(3.97,68)
(3.99,69)(4.00,101)(4.01,69) (4.07,68)(4.08,84)(4.09,70)
(4.11,72)(4.12,80)(4.13,76) (4.15,78)(4.16,86)(4.17,80)(4.18,85)(4.19,78)
(4.21,76)(4.22,82)(4.23,72)
(4.28,67.5)
(4.34,66.5)(4.35,72.5)(4.36,66.5) (4.43,66.5)(4.44,72)(4.45,66.5)
(4.49,66.3)(4.50,70)(4.51,66.3) (4.55,66)(4.56,70)(4.57,66)
(4.62,66.3)(4.63,71)(4.64,66.3) (4.71,66.5)(4.72,70)(4.73,66.5)
(4.77,66.5)(4.78,72)(4.79,66.5) (4.85,66.5)(4.86,72)(4.87,66.5)
(4.92,66.3)(4.93,71)(4.94,66.3) (4.98,66.5)(4.99,72)(5.00,66.5)
(5.05,66.5)(5.06,70)(5.07,66.5) (5.12,66.5)(5.13,71)(5.14,68)
(5.20,70)(5.21,83.5)(5.22,72) (5.28,73)(5.29,84)(5.30,70)
(5.38,66.2)
(5.44,65.8)(5.45,67)(5.46,65.8) (5.51,65.7)(5.52,68.5)(5.53,65.7)
(5.58,65.5)(5.59,67.5)(5.60,65.5) (5.65,65.5)(5.66,67)(5.67,65.5)
(5.75,65.5)(5.76,69)(5.77,65.5) (5.83,65.5)(5.84,67.5)(5.85,65.5)
(5.90,65.5)(5.91,68.3)(5.92,65.3) (6.04,65.3)(6.05,68)(6.06,65.3)
(6.13,65.3)(6.14,67)(6.15,65.3) (6.21,65.3)(6.22,68.5)(6.23,65.3)
(6.32,66)(6.33,71)(6.34,65.5) (6.44,65.3)(6.45,67.5)(6.46,65.3)
(6.54,65.2)(6.55,69)(6.56,65.2) (6.61,65.2)(6.62,67)(6.63,65.2)
(6.71,65.3)(6.72,67)(6.73,65.3) (6.82,65.5)(6.83,72)(6.84,65.5)
(6.89,65.5)(6.90,69)(6.91,65.5) (6.96,65.5)(6.97,73)(6.98,65.5)
(7.02,65.5)(7.03,71)(7.04,65.5) (7.13,65.5)(7.14,72.6)(7.15,65.3)
(7.21,65.3)(7.22,68)(7.23,65.3) (7.27,65.3)(7.28,70)(7.29,65.3)
(7.33,65.2)(7.34,69)(7.35,65.2) (7.44,65.2)(7.45,68)(7.46,65.2)
(7.51,65.2)(7.52,69.5)(7.53,65.2) (7.59,65.3)(7.60,72)(7.61,65.3)
(7.65,65.3)(7.66,69)(7.67,65.3) (7.69,65.3)(7.70,71)(7.71,65.3)
(7.75,65.4)(7.76,70)(7.77,65.4) (7.81,65.4)(7.82,71)(7.83,65.4)
(7.89,65.4)(7.90,70)(7.91,65.4) (7.97,65.4)(7.98,71.4)(7.99,65.4)
(8.04,65.5)(8.05,69)(8.06,65.5)
(8.10,66.5)
(8.14,69)(8.15,76)(8.16,70) (8.19,72)(8.20,86)(8.21,73)
(8.24,74)(8.25,98)(8.26,73) (8.27,72)(8.28,85)(8.29,68)
(8.36,65)
(8.44,64.8)(8.45,66.5)(8.46,64.8) (8.56,64.7)(8.57,70)(8.58,64.7)
(8.64,64.6)(8.65,67)(8.66,64.6) (8.74,64.5)(8.75,68)(8.76,64.5)
(8.81,64.5)(8.82,67)(8.83,64.5) (8.88,64.5)(8.89,70)(8.90,64.5)
(8.99,64.3)(9.00,71)(9.01,64.3) (9.02,64.3)(9.03,70)(9.04,64.3)
(9.09,64.3)(9.10,68)(9.11,64.3) (9.17,64.3)(9.18,69)(9.19,64.3)
(9.26,64.3)(9.27,71)(9.28,64.3) (9.36,64.2)(9.37,72)(9.38,64.2)
(9.42,64.2)(9.43,69)(9.44,64.2) (9.48,64.2)(9.49,73.3)(9.50,64.2)
(9.54,64.1)(9.55,68)(9.56,64.1) (9.58,64)(9.59,71)(9.60,64)
(9.64,64)(9.65,69)(9.66,64) (9.70,64)(9.71,71)(9.72,64)
(9.78,64)(9.79,71.5)(9.80,64) (9.84,63.8)(9.85,67)(9.86,63.8)
(10.00,63.5)
(10.04,63.5)(10.05,66)(10.06,63.5) (10.09,63.5)(10.10,67)(10.11,63.5)
(10.14,64.5)(10.15,68)(10.16,65) (10.17,65)(10.18,79.6)(10.19,64.5)
(10.24,63.3)(10.25,66.5)(10.26,63.3) (10.31,63.3)(10.32,68)(10.33,63.3)
(10.37,63.3)(10.38,67)(10.39,63.3) (10.44,64.5)(10.45,74.6)(10.46,64)
(10.53,66)(10.54,72)(10.55,67) (10.56,67)(10.57,94.4)(10.58,68)(10.59,91)(10.60,67.5)
(10.70,65)
(10.75,67)(10.76,75)(10.77,68)(10.78,95.3)(10.79,70)
(10.84,70)(10.85,87.2)(10.86,71) (10.91,73)(10.92,83.4)(10.93,74)
(10.97,75)(10.98,86.3)(10.99,74)
(11.06,64.5)
(11.09,64)(11.10,68)(11.11,64) (11.14,64)(11.15,70)(11.16,64)
(11.19,64)(11.20,72)(11.21,64) (11.25,63.8)(11.26,69)(11.27,63.8)
(11.31,63.8)(11.32,71)(11.33,63.8) (11.37,63.6)(11.38,68)(11.39,63.6)
(11.43,63.5)(11.44,72)(11.45,63.5) (11.49,63.3)(11.50,70)(11.51,63.3)
(11.54,63.2)(11.55,67)(11.56,63.2) (11.59,63)(11.60,70)(11.61,63)
(11.66,63)(11.67,69)(11.68,63) (11.71,63)(11.72,68)(11.73,63)
(11.78,63.2)(11.79,73.4)(11.80,63.2) (11.85,63.4)(11.86,70)(11.87,63.4)
(11.92,63.5)(11.93,72.5)(11.94,63.5)
(12.05,62)
(12.14,64.5)(12.15,72)(12.16,68) (12.18,70)(12.19,85.8)(12.20,71)
(12.25,70)(12.26,101.5)(12.27,68)
(12.33,62)
(12.39,61.3)(12.40,65)(12.41,61.3) (12.44,61.3)(12.45,66)(12.46,61.3)
(12.51,61)(12.52,67)(12.53,61) (12.59,61)(12.60,64.5)(12.61,61)
(12.64,61)(12.65,67)(12.66,61) (12.71,61)(12.72,65)(12.73,61)
(12.80,60.8)
(12.85,60.8)(12.86,66)(12.87,60.8) (12.91,60.8)(12.92,64.5)(12.93,60.8)
(13.00,61)
(13.04,61)(13.05,65.5)(13.06,61) (13.11,61)(13.12,67)(13.13,61)
(13.17,61)(13.18,64.5)(13.19,61) (13.26,61)(13.27,70.1)(13.28,61)
(13.32,61)(13.33,65)(13.34,61) (13.38,61)(13.39,66.3)(13.40,61)
(13.46,61)(13.47,66.5)(13.48,61) (13.52,61)(13.53,64)(13.54,61)
(13.60,61)
(13.65,61)(13.66,65.5)(13.67,61) (13.71,61)(13.72,67)(13.73,61)
(13.78,61)(13.79,68.7)(13.80,61) (13.85,61)(13.86,69)(13.87,61)
(13.94,60.8)(13.95,64.5)(13.96,60.8) (14.01,60.8)(14.02,66)(14.03,60.8)
(14.10,60.8)
(14.14,60.8)(14.15,64)(14.16,60.8) (14.24,61)(14.25,65)(14.26,61)
(14.31,61)(14.32,64)(14.33,61) (14.38,61.2)(14.39,64.9)(14.40,61.2)
(14.47,61.3)(14.48,64.5)(14.49,61.3) (14.54,61.5)(14.55,65.5)(14.56,61.5)
(14.61,61.8)(14.62,66)(14.63,61.8)
(14.70,62.5)
(14.74,62.8)(14.75,67)(14.76,63) (14.81,65)(14.82,74.4)(14.83,65.5)
(14.85,65.5)(14.86,72)(14.87,64.5)
(14.90,65) (15.02,70)
(15.04,64.5)(15.05,86.5)(15.06,64.5) (15.14,64.5)(15.15,74.9)(15.16,64.5)
(15.23,67)(15.24,104.8)(15.25,70)(15.26,100.1)(15.27,66)
(15.37,65)
(15.43,70)(15.44,80)(15.45,73)(15.46,73)(15.47,87.2)(15.48,70)
(15.58,65.5)(15.59,87)(15.60,67) (15.65,72)(15.66,79.6)(15.67,72)
(15.75,64.5)
(15.84,64)(15.85,68)(15.86,64) (15.91,64)(15.92,69)(15.93,64)
(16.03,64.3)(16.04,70)(16.05,64.3) (16.09,64.3)(16.10,67)(16.11,64.3)
(16.14,64.5)(16.15,69)(16.16,64.5) (16.21,64.5)(16.22,70)(16.23,64.5)
(16.26,64.5)(16.27,68.7)(16.28,64.5) (16.34,64.3)(16.35,68)(16.36,64.3)
(16.39,64.3)(16.40,69)(16.41,64.3)
(16.45,64.3)
(16.54,68)(16.55,83.2)(16.56,70) (16.64,70)(16.65,82.5)(16.66,68)
(16.75,65)
(16.79,65)(16.80,67)(16.81,65)
(16.90,65)
(16.94,65)(16.95,68)(16.96,65) (17.04,65.3)(17.05,67.5)(17.06,65.3)
(17.10,65.5)
(17.14,65.6)(17.15,70)(17.16,65.6) (17.22,65.8)(17.23,72.7)(17.24,65.8)
(17.27,65.8)(17.28,72)(17.29,65.8) (17.34,65.8)(17.35,69)(17.36,65.8)
(17.44,65.8)(17.45,71.8)(17.46,65.8) (17.49,65.8)(17.50,68.5)(17.51,65.8)
(17.55,65.8)(17.56,70.1)(17.57,65.8) (17.62,65.6)(17.63,72)(17.64,65.6)
(17.67,65.6)(17.68,69)(17.69,65.6) (17.73,65.6)(17.74,70)(17.75,65.6)
(17.79,65.8)(17.80,68)(17.81,65.8) (17.89,66)(17.90,70)(17.91,66)
(18.01,66.5)(18.02,71)(18.03,66.5) (18.08,66.5)(18.09,70)(18.10,66.5)
(18.17,66.2)(18.18,68)(18.19,66.2) (18.29,66)(18.30,67)(18.31,66)
(18.36,66)(18.37,67.5)(18.38,66) (18.44,66)(18.45,68)(18.46,66)
(18.57,66.2)(18.58,67.5)(18.59,66.2) (18.65,66.3)(18.66,68)(18.67,66.3)
(18.70,66.5)
(18.77,67)(18.78,69)(18.79,67.5)
(18.87,70)(18.88,76)(18.89,72) (18.90,73)(18.91,84.9)(18.92,74)
(18.95,80)
(18.97,73)(18.98,103.2)(18.99,72) (19.01,78)
(19.04,68)(19.05,87.2)(19.06,67)
(19.11,66.5)(19.12,69)(19.13,66.5)
(19.15,66.5)
(19.21,66.5)(19.22,70)(19.23,66.5) (19.27,66.5)(19.28,68.5)(19.29,66.5)
(19.35,67)(19.36,104.9)(19.37,67) (19.43,66.8)(19.44,68)(19.45,66.8)
(19.49,66.8)(19.50,71)(19.51,66.8) (19.57,67)(19.58,70)(19.59,67)
(19.67,67)(19.68,71)(19.69,67) (19.74,67)(19.75,69)(19.76,67)
(19.81,70)(19.82,74)(19.83,72) (19.85,76)(19.86,80.6)(19.87,76)
(19.90,74)
(19.94,67.3)
(20.04,67.5)(20.05,70)(20.06,67.5) (20.14,67.7)(20.15,70.5)(20.16,67.7)
(20.28,67.8)(20.29,71.5)(20.30,67.8) (20.37,68)(20.38,71)(20.39,68)
(20.48,68.2)(20.49,72)(20.50,68.2) (20.59,68.4)(20.60,70.5)(20.61,68.4)
(20.69,68.5)(20.70,72.5)(20.71,68.5) (20.79,68.6)(20.80,71)(20.81,68.6)
(20.91,68.7)(20.92,70)(20.93,68.7) (20.99,68.8)(21.00,71.5)(21.01,68.8)
(21.09,68.8)(21.10,70)(21.11,68.8) (21.19,68.9)(21.20,70.5)(21.21,68.9)
(21.29,69)(21.30,71)(21.31,69) (21.37,69)(21.38,71)(21.39,69)
(21.44,69)(21.45,72)(21.46,69) (21.49,71)(21.50,78)(21.51,72)
(21.53,72)(21.54,86.5)(21.55,71)
(21.65,69.2)
(21.71,69.3)(21.72,71)(21.73,69.3) (21.79,69.3)(21.80,72)(21.81,69.3)
(21.89,69.4)(21.90,71)(21.91,69.4)
(22.00,69.5)
(22.07,69.5)(22.08,71.5)(22.09,69.5) (22.14,69.6)(22.15,72)(22.16,69.6)
(22.24,69.6)(22.25,71)(22.26,69.6) (22.32,69.7)(22.33,72)(22.34,69.7)
(22.40,69.8)(22.41,73.4)(22.42,69.8) (22.49,70)(22.50,72)(22.51,70)
(22.59,70.5)(22.60,72)(22.61,71) (22.67,72)(22.68,78)(22.69,73)
(22.71,74)(22.72,83.7)(22.73,75) (22.75,74)(22.76,78)(22.77,75)
(22.79,74)(22.80,83)(22.81,72)
(22.90,69.3)
(22.99,69.3)(23.00,71)(23.01,69.3) (23.09,69.3)(23.10,72)(23.11,69.3)
(23.19,69.3)(23.20,71.5)(23.21,69.3) (23.29,69.3)(23.30,72)(23.31,69.3)
(23.39,69.3)(23.40,71)(23.41,69.3) (23.49,69.3)(23.50,72)(23.51,69.3)
(23.59,69.4)(23.60,71.5)(23.61,69.4) (23.69,69.5)(23.70,72)(23.71,69.5)
(23.77,69.6)(23.78,72)(23.79,69.6)
(23.85,70)(23.86,76)(23.87,72) (23.91,74)(23.92,82.9)(23.93,74)
(23.97,72)
(23.97,68)(23.94,68)(23.5,66.5)(22.9,66.3)(22.76,69)(22.5,67)(22.0,66.5)
(21.6,66)(21.52,67)(21.0,65.5)(20.5,65)(20.0,64)(19.86,70)(19.5,63.5)
(19.1,63.5)(18.94,67)(18.5,63)(18.0,63)(17.5,62.5)(17.0,62)(16.75,61.5)
(16.6,64)(16.0,60.3)(15.75,60)(15.64,65)(15.55,59)(15.44,65)(15.0,57.5)
(14.8,58.5)(14.5,57)(14.0,56.3)(13.5,56.5)(13.0,56.5)(12.5,56.8)(12.35,57.5)
(12.22,64)(12.0,57.5)(11.7,58.5)(11.5,59)(11.1,60.5)(10.97,68)(10.7,61)
(10.6,63)(10.5,60)(10.0,60)(9.5,60.5)(9.0,60.8)(8.4,61.5)(8.24,64)(8.0,62)
(7.5,62)(7.0,62)(6.5,62)(6.0,62)(5.4,62.8)(5.26,66)(5.1,63.2)(4.7,63.2)
(4.3,63.5)(4.17,72)(4.0,62.5)(3.8,63)(3.66,66)(3.5,63)(3.0,62.5)(2.5,62)
(2.0,61.8)(1.9,62)(1.8,65)(1.7,63)(1.3,61.8)(0.95,62)(0.85,66)(0.6,62.5)
(0.3,63.5)(0.0,64.5)
} -- cycle;
\addplot[forget plot, bA, line width=0.8pt] table[x=t, y=A] {\botavg};
\addplot[forget plot, bC, line width=0.8pt] table[x=t, y=C] {\botavg};
\addplot[forget plot, bZ, line width=0.8pt] table[x=t, y=Z] {\botavg};
\end{axis}
\begin{axis}[nzright, at={(0.593in,0.507in)}]
\addplot[draw=none] coordinates {(1,50)};
\end{axis}
\end{tikzpicture}
\end{document}
